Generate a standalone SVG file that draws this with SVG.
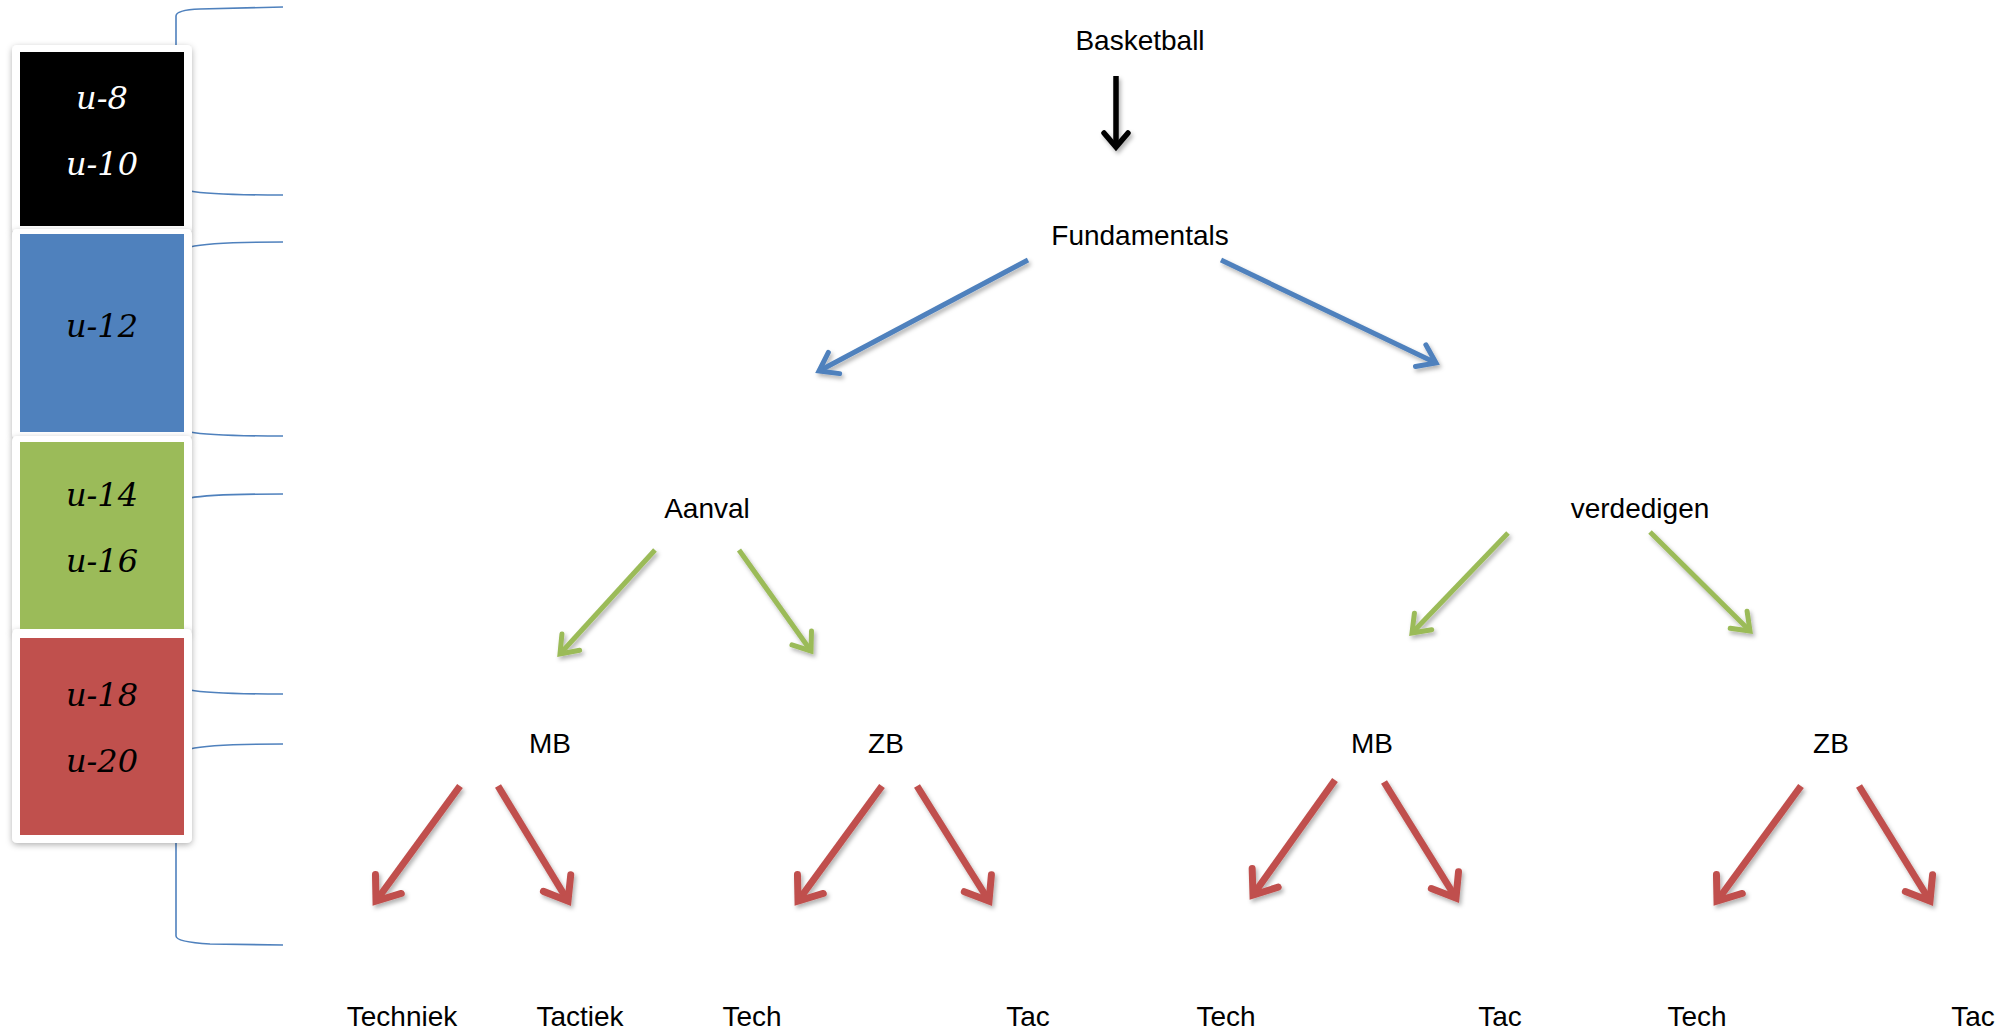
<svg xmlns="http://www.w3.org/2000/svg" width="2010" height="1033" viewBox="0 0 2010 1033">
<defs>
<filter id="sh" x="-20%" y="-20%" width="140%" height="140%">
<feDropShadow dx="2" dy="3" stdDeviation="2" flood-color="#000" flood-opacity="0.3"/>
</filter>
<filter id="card" x="-10%" y="-10%" width="120%" height="120%">
<feDropShadow dx="0" dy="2" stdDeviation="3" flood-color="#000" flood-opacity="0.3"/>
</filter>
<marker id="mk" markerUnits="userSpaceOnUse" orient="auto" markerWidth="40" markerHeight="40" refX="0" refY="0" overflow="visible">
<path d="M-14,-12 L0,0 L-14,12" fill="none" stroke="#000" stroke-width="5.5" stroke-linecap="round" stroke-linejoin="miter"/>
</marker>
<marker id="mb" markerUnits="userSpaceOnUse" orient="auto" markerWidth="40" markerHeight="40" overflow="visible">
<path d="M-17,-12 L0,0 L-17,12" fill="none" stroke="#4F81BD" stroke-width="5" stroke-linecap="round" stroke-linejoin="miter"/>
</marker>
<marker id="mg" markerUnits="userSpaceOnUse" orient="auto" markerWidth="40" markerHeight="40" overflow="visible">
<path d="M-16,-12 L0,0 L-16,12" fill="none" stroke="#9BBB59" stroke-width="5" stroke-linecap="round" stroke-linejoin="miter"/>
</marker>
<marker id="mr" markerUnits="userSpaceOnUse" orient="auto" markerWidth="50" markerHeight="50" overflow="visible">
<path d="M-21,-16 L0,0 L-21,16" fill="none" stroke="#C0504D" stroke-width="7" stroke-linecap="round" stroke-linejoin="miter"/>
</marker>
</defs>
<style>
.lbl{font-family:"Liberation Sans",Arial,sans-serif;font-size:28px;fill:#000;text-anchor:middle}
.age{font-family:"DejaVu Serif",serif;font-style:italic;font-size:32px;text-anchor:middle}
.br{fill:none;stroke:#4F81BD;stroke-width:1.6}
.k{stroke:#000;stroke-width:5.5;fill:none;marker-end:url(#mk)}
.b{stroke:#4F81BD;stroke-width:5;fill:none;marker-end:url(#mb)}
.g{stroke:#9BBB59;stroke-width:5;fill:none;marker-end:url(#mg)}
.r{stroke:#C0504D;stroke-width:7;fill:none;marker-end:url(#mr)}
</style>
<rect width="2010" height="1033" fill="#fff"/>

<g id="brackets">
<path class="br" d="M176,60 L176,16 Q176,10 200,9 L283,7"/>
<path class="br" d="M190,191 Q210,195 283,195"/>
<path class="br" d="M190,247 Q210,242 283,242"/>
<path class="br" d="M190,432 Q210,436 283,436"/>
<path class="br" d="M190,498 Q210,494 283,494"/>
<path class="br" d="M190,690 Q210,694 283,694"/>
<path class="br" d="M190,749 Q210,744 283,744"/>
<path class="br" d="M176,830 L176,936 Q176,942 210,944 L283,945"/>
</g>

<g id="age-panel">
<rect x="12" y="45" width="180" height="188" rx="5" fill="#fff" filter="url(#card)"/>
<rect x="12" y="229" width="180" height="210" rx="5" fill="#fff" filter="url(#card)"/>
<rect x="12" y="436" width="180" height="198" rx="5" fill="#fff" filter="url(#card)"/>
<rect x="12" y="629" width="180" height="214" rx="5" fill="#fff" filter="url(#card)"/>
<g id="u8-u10">
<rect x="20" y="52" width="164" height="174" fill="#000"/>
<text class="age" x="102" y="109" fill="#fff">u-8</text>
<text class="age" x="102" y="175" fill="#fff">u-10</text>
</g>
<g id="u12">
<rect x="20" y="234" width="164" height="198" fill="#4F81BD"/>
<text class="age" x="102" y="337" fill="#000">u-12</text>
</g>
<g id="u14-u16">
<rect x="20" y="442" width="164" height="187" fill="#9BBB59"/>
<text class="age" x="102" y="506" fill="#000">u-14</text>
<text class="age" x="102" y="572" fill="#000">u-16</text>
</g>
<g id="u18-u20">
<rect x="20" y="638" width="164" height="197" fill="#C0504D"/>
<text class="age" x="102" y="706" fill="#000">u-18</text>
<text class="age" x="102" y="772" fill="#000">u-20</text>
</g>
</g>

<g id="connectors" filter="url(#sh)">
<line class="k" x1="1116" y1="76" x2="1116" y2="147"/>
<line class="b" x1="1028" y1="260" x2="819" y2="371"/>
<line class="b" x1="1221" y1="260" x2="1436" y2="363"/>
<line class="g" x1="655" y1="550" x2="560" y2="654"/>
<line class="g" x1="739" y1="550" x2="811" y2="651"/>
<line class="g" x1="1508" y1="533" x2="1412" y2="633"/>
<line class="g" x1="1650" y1="532" x2="1750" y2="631"/>
<line class="r" x1="460" y1="786" x2="376" y2="901"/>
<line class="r" x1="498" y1="786" x2="568" y2="901"/>
<line class="r" x1="882" y1="786" x2="798" y2="901"/>
<line class="r" x1="917" y1="786" x2="989" y2="901"/>
<line class="r" x1="1335" y1="780" x2="1253" y2="895"/>
<line class="r" x1="1384" y1="782" x2="1456" y2="898"/>
<line class="r" x1="1801" y1="786" x2="1717" y2="901"/>
<line class="r" x1="1859" y1="786" x2="1930" y2="901"/>
</g>

<g id="n-basketball"><text class="lbl" x="1140" y="50">Basketball</text></g>
<g id="n-fundamentals"><text class="lbl" x="1140" y="245">Fundamentals</text></g>
<g id="n-aanval"><text class="lbl" x="707" y="518">Aanval</text></g>
<g id="n-verdedigen"><text class="lbl" x="1640" y="518">verdedigen</text></g>
<g id="n-mb1"><text class="lbl" x="550" y="753">MB</text></g>
<g id="n-zb1"><text class="lbl" x="886" y="753">ZB</text></g>
<g id="n-mb2"><text class="lbl" x="1372" y="753">MB</text></g>
<g id="n-zb2"><text class="lbl" x="1831" y="753">ZB</text></g>
<g id="n-techniek"><text class="lbl" x="402" y="1026">Techniek</text></g>
<g id="n-tactiek"><text class="lbl" x="580" y="1026">Tactiek</text></g>
<g id="n-tech1"><text class="lbl" x="752" y="1026">Tech</text></g>
<g id="n-tac1"><text class="lbl" x="1028" y="1026">Tac</text></g>
<g id="n-tech2"><text class="lbl" x="1226" y="1026">Tech</text></g>
<g id="n-tac2"><text class="lbl" x="1500" y="1026">Tac</text></g>
<g id="n-tech3"><text class="lbl" x="1697" y="1026">Tech</text></g>
<g id="n-tac3"><text class="lbl" x="1973" y="1026">Tac</text></g>
</svg>
